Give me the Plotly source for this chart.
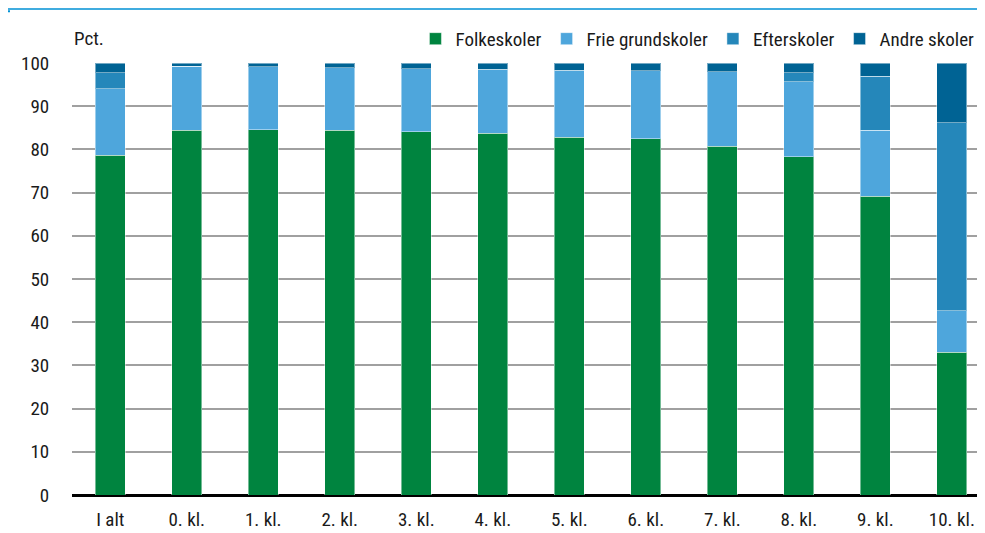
import plotly.graph_objects as go

categories = ["I alt", "0. kl.", "1. kl.", "2. kl.", "3. kl.", "4. kl.", "5. kl.",
              "6. kl.", "7. kl.", "8. kl.", "9. kl.", "10. kl."]
folkeskoler = [78.7, 84.4, 84.6, 84.4, 84.1, 83.7, 82.8, 82.5, 80.7, 78.3, 69.1, 33.1]
frie_grundskoler = [15.3, 14.8, 14.5, 14.5, 14.6, 14.7, 15.4, 15.7, 17.3, 17.4, 15.3, 9.5]
efterskoler = [3.7, 0.0, 0.0, 0.0, 0.0, 0.1, 0.1, 0.0, 0.0, 2.1, 12.5, 43.6]
andre_skoler = [2.3, 0.8, 0.9, 1.1, 1.3, 1.5, 1.7, 1.8, 2.0, 2.2, 3.1, 13.8]
y_ticks = [0, 10, 20, 30, 40, 50, 60, 70, 80, 90, 100]

series = [
    ("Folkeskoler", folkeskoler, "#00843F"),
    ("Frie grundskoler", frie_grundskoler, "#4EA6DC"),
    ("Efterskoler", efterskoler, "#2587BA"),
    ("Andre skoler", andre_skoler, "#006394"),
]

FONT = "Roboto Condensed, Liberation Sans Narrow, Arial Narrow, Roboto, sans-serif"
FS = 19

fig = go.Figure()
for name, vals, col in series:
    fig.add_trace(go.Bar(
        x=list(range(len(categories))), y=vals, name=name,
        marker=dict(color=col, line=dict(color="rgba(255,255,255,0.45)", width=1)),
    ))

fig.update_layout(
    width=977, height=525,
    margin=dict(l=64, r=1, t=55, b=38),
    barmode="stack", bargap=0.608,
    plot_bgcolor="white", paper_bgcolor="white",
    font=dict(family=FONT, size=FS, color="#1a1a1a"),
    showlegend=True,
    legend=dict(orientation="h", x=0.995, xanchor="right", y=1.012, yanchor="bottom",
                traceorder="normal", font=dict(size=FS), itemwidth=30,
                bgcolor="rgba(0,0,0,0)"),
    xaxis=dict(
        tickmode="array", tickvals=list(range(len(categories))), ticktext=categories,
        range=[-0.5, 11.42], showgrid=False, zeroline=False, showline=False,
        ticks="outside", ticklen=7, tickcolor="rgba(0,0,0,0)",
        tickfont=dict(size=FS),
    ),
    yaxis=dict(
        range=[0, 100], tickvals=y_ticks, showgrid=True, gridcolor="#A0A0A0", gridwidth=2,
        zeroline=True, zerolinecolor="#000000", zerolinewidth=2.5, showline=False,
        ticks="outside", ticklen=18, tickcolor="rgba(0,0,0,0)",
        tickfont=dict(size=FS),
    ),
    annotations=[dict(text="Pct.", xref="paper", yref="paper", x=0, y=1.0,
                      xanchor="left", yanchor="bottom", yshift=11, showarrow=False,
                      font=dict(size=FS))],
    shapes=[
        dict(type="line", xref="paper", yref="paper", x0=-0.074, x1=1.01,
             y0=1.125, y1=1.125, line=dict(color="#0091D5", width=1.5)),
        dict(type="line", xref="paper", yref="paper", x0=-0.074, x1=-0.068,
             y0=1.12, y1=1.12, line=dict(color="#0091D5", width=2)),
    ],
)

fig.write_html("out.html")
